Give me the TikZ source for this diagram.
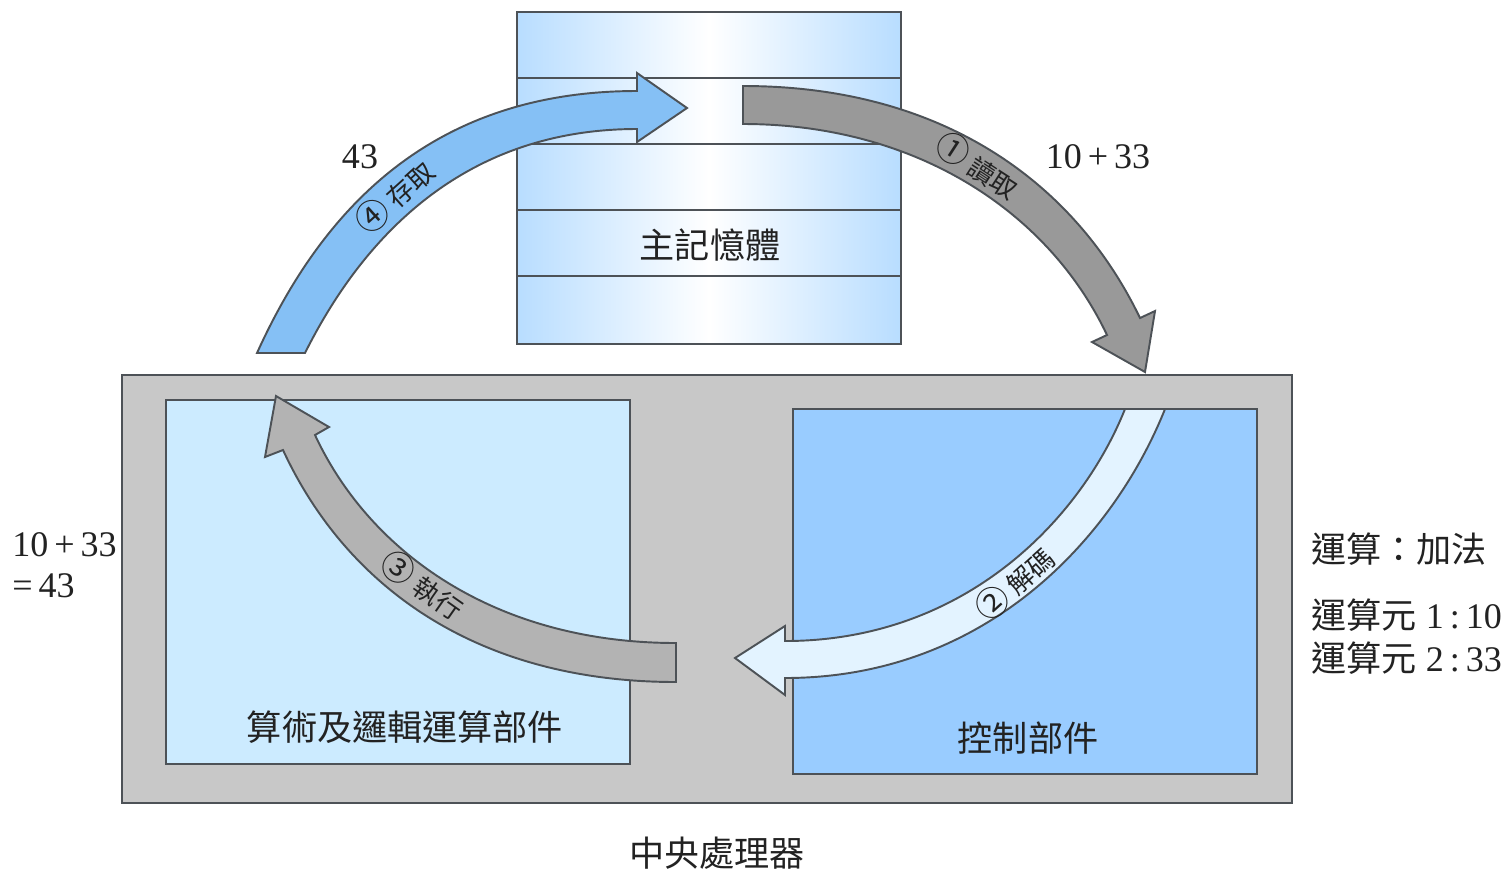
\documentclass[tikz,border=0pt]{standalone}
\usepackage{fontspec}
\setmainfont{Liberation Serif}
\newfontfamily\cjk{Noto Sans CJK TC}
\definecolor{outl}{HTML}{4D5257}
\definecolor{txt}{HTML}{222222}
\definecolor{cpugray}{HTML}{C8C8C8}
\definecolor{alublue}{HTML}{CCEBFF}
\definecolor{ctrlblue}{HTML}{99CCFF}
\definecolor{memblue}{HTML}{B8DDFF}
\definecolor{afour}{HTML}{85C0F5}
\definecolor{aone}{HTML}{999999}
\definecolor{athree}{HTML}{B3B3B3}
\definecolor{atwo}{HTML}{E3F3FF}
\newcommand{\circnum}[1]{{\fontsize{19}{20}\selectfont #1}\hspace{0.25em}}
\begin{document}
\begin{tikzpicture}[x=0.02cm,y=-0.02cm,
  edge/.style={draw=outl, line width=1.1pt, line join=miter},
  box/.style={edge, rectangle, inner sep=0pt, outer sep=0pt},
  big/.style={font=\cjk\fontsize{20}{24}\selectfont, text=txt, inner sep=0pt},
  arrlab/.style={font=\cjk\fontsize{15}{18}\selectfont, text=txt, inner sep=0pt},
  num/.style={font=\fontsize{20.5}{24}\selectfont, text=txt, inner sep=0pt},
]
\useasboundingbox (0,0) rectangle (1503,870);
% boxes
\node[box, fill=cpugray, minimum width=23.4cm, minimum height=8.56cm] (cpu) at (707,589) {};
\node[box, fill=alublue, minimum width=9.28cm, minimum height=7.28cm] (alu) at (398,582) {};
\node[box, fill=ctrlblue, minimum width=9.28cm, minimum height=7.3cm] (ctrl) at (1025,591.5) {};
\node[box, left color=memblue, right color=memblue, middle color=white, minimum width=7.68cm, minimum height=6.64cm] (mem) at (709,178) {};
\foreach \yy in {78,144,210,276}
  \draw[edge] (mem.west |- 0,\yy) -- (mem.east |- 0,\yy);
% box labels
\node[big] (memlab) at (710,245) {主記憶體};
\node[big] (alulab) at (405,727) {算術及邏輯運算部件};
\node[big] (ctrllab) at (1028,738) {控制部件};
\node[big] (cpulab) at (717,853) {中央處理器};
% arrow 4 (store)
\draw[edge, fill=afour] (257,353) .. controls (325,203) and (437,91) .. (637,91)
  -- (637,73) -- (687,108) -- (637,142) -- (637,129)
  .. controls (467,129) and (365,233) .. (305,353) -- cycle;
% arrow 1 (read)
\draw[edge, fill=aone] (743,86) .. controls (943,86) and (1075,183) .. (1140,318)
  -- (1155,311) -- (1145,372) -- (1092,342) -- (1107,335)
  .. controls (1047,209) and (913,124) .. (743,124) -- cycle;
% arrow 2 (decode)
\draw[edge, fill=atwo] (1165,409) .. controls (1113,539) and (985,678) .. (785,678)
  -- (785,695) -- (735,658) -- (785,626) -- (785,641)
  .. controls (965,641) and (1081,519) .. (1125,409) -- cycle;
% arrow 3 (execute)
\draw[edge, fill=athree] (676,682) .. controls (476,682) and (346,586) .. (283,450)
  -- (265,457) -- (276,396) -- (329,427) -- (315,435)
  .. controls (370,553) and (496,643) .. (676,643) -- cycle;
% arrow labels
\node[arrlab, rotate=42] (l4) at (394,196) {\circnum{④}存取};
\node[arrlab, rotate=-33] (l1) at (978,165) {\circnum{①}讀取};
\node[arrlab, rotate=42] (l2) at (1014,583) {\circnum{②}解碼};
\node[arrlab, rotate=-35] (l3) at (423,585) {\circnum{③}執行};
% numbers
\node[num] (n43) at (360,157) {43};
\node[num] (n1033) at (1098,157) {10\,+\,33};
\node[num, anchor=west] (lsum) at (12,545) {10\,+\,33};
\node[num, anchor=west] (leq) at (12,586) {=\,43};
\node[big, anchor=west] (op) at (1311,549) {運算：加法};
\node[num, anchor=west] (opa) at (1311,615) {{\cjk\fontsize{20}{24}\selectfont 運算元} 1\,:\,10};
\node[num, anchor=west] (opb) at (1311,658) {{\cjk\fontsize{20}{24}\selectfont 運算元} 2\,:\,33};
\end{tikzpicture}
\end{document}
